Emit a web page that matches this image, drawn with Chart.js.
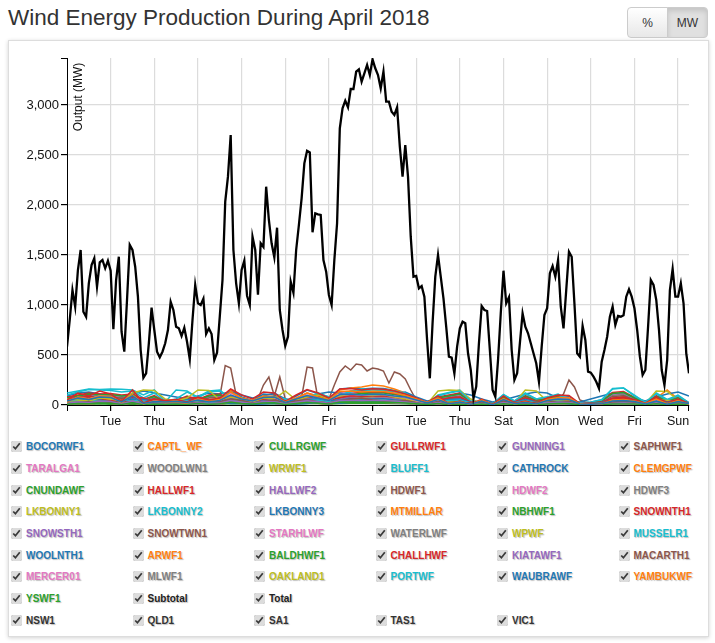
<!DOCTYPE html>
<html>
<head>
<meta charset="utf-8">
<title>Wind Energy Production During April 2018</title>
<script src="https://cdn.jsdelivr.net/npm/chart.js@4.4.0/dist/chart.umd.min.js"></script>
<style>
  body { margin: 0; background: #fff; font-family: "Liberation Sans", Arial, Helvetica, sans-serif; }
  #title { position: absolute; left: 8px; top: 5px; margin: 0; font-size: 22.5px; font-weight: normal; color: #333; white-space: nowrap; }
  .btn-group { position: absolute; left: 627px; top: 7px; display: flex; }
  .btn-group button { height: 31px; width: 41px; padding: 0; font: 12px "Liberation Sans", Arial, sans-serif; color: #333; border: 1px solid #ccc; background: linear-gradient(#fff, #e8e8e8); }
  .btn-group button:first-child { border-radius: 4px 0 0 4px; }
  .btn-group button:last-child { margin-left: -1px; border-radius: 0 4px 4px 0; background: #e0e0e0; box-shadow: inset 0 3px 5px rgba(0,0,0,.125); }
  #panel { position: absolute; left: 8px; top: 40px; width: 701px; height: 597px; box-sizing: border-box; border: 1px solid #ddd; box-shadow: 0 1px 4px rgba(0,0,0,.18); background: #fff; }
  #chart { display: block; }
  .legend { display: grid; grid-template-columns: repeat(6, 121.5px); grid-auto-rows: 21.7px; padding-left: 2px; }
  .legend label { display: flex; align-items: center; font-size: 10px; font-weight: bold; white-space: nowrap; text-shadow: 1px 1px 1px rgba(0,0,0,.25); }
  .legend input { width: 11px; height: 11px; margin: 0 4px 0 0; accent-color: #dcdcdc; }
</style>
</head>
<body>
<h1 id="title">Wind Energy Production During April 2018</h1>
<div class="btn-group"><button>%</button><button>MW</button></div>
<div id="panel">
  <canvas id="chart" width="699" height="395"></canvas>
  <div class="legend" id="farmLegend"></div>
  <div class="legend" id="regionLegend"></div>
</div>
<script>
// hours from 1 April 00:00 to the last reading
const spanHours = 684;
const dayNames = ["Sun", "Mon", "Tue", "Wed", "Thu", "Fri", "Sat"];
const dayTicks = [48, 96, 144, 192, 240, 288, 336, 384, 432, 480, 528, 576, 624, 672];
const yTicks = [0, 500, 1000, 1500, 2000, 2500, 3000];
const yMax = 3470;

// Total output, 3-hourly
const totalMW = [
  583, 850, 1150, 983, 1350, 1550, 933, 883, 1217, 1400,
  1467, 1183, 1427, 1450, 1367, 1443, 1343, 757, 1250, 1483,
  733, 533, 1050, 1600, 1550, 1383, 1083, 550, 272, 317,
  617, 973, 750, 533, 477, 533, 617, 750, 1033, 950,
  783, 767, 690, 773, 633, 457, 850, 1200, 1017, 1000,
  1063, 710, 767, 710, 450, 523, 883, 1250, 2033, 2283,
  2700, 1550, 1217, 1017, 1350, 1443, 1093, 1000, 1683, 1550,
  1103, 1617, 1580, 2183, 1850, 1617, 1477, 1773, 950, 750,
  593, 683, 1233, 1123, 1550, 1800, 2067, 2417, 2543, 2527,
  1727, 1917, 1907, 1900, 1450, 1333, 1100, 1000, 1450, 1817,
  2767, 2967, 3043, 2977, 3160, 3160, 3333, 3357, 3233, 3317,
  3400, 3300, 3457, 3367, 3300, 3167, 3333, 3033, 3033, 2933,
  2900, 2977, 2583, 2283, 2600, 2283, 1683, 1283, 1290, 1167,
  1190, 1083, 650, 267, 817, 1283, 1500, 1283, 1067, 783,
  483, 473, 317, 583, 767, 833, 817, 517, 350, 67,
  183, 617, 990, 950, 940, 550, 150, 83, 450, 917,
  1343, 1017, 1077, 550, 250, 317, 617, 917, 783, 717,
  617, 517, 417, 233, 583, 900, 967, 1317, 1390, 1283,
  1450, 983, 767, 1150, 1533, 1483, 1017, 517, 483, 790,
  650, 333, 323, 283, 233, 167, 433, 550, 683, 883,
  983, 800, 890, 883, 897, 1083, 1157, 1083, 967, 750,
  483, 300, 350, 783, 1250, 1200, 1050, 750, 350, 200,
  450, 1150, 1360, 1083, 1083, 1217, 1017, 517, 317
];

// Individual farms, 12-hourly (MACARTH1 6-hourly)
const BOCORWF1 = [40,70,55,80,75,30,90,15,35,30, 35,25,50,30,45,100,60,40,75,80, 25,60,95,70,45,105,110,100,108,105, 90,80,50,20,55,10,30,8,40,2, 55,12,25,10,45,60,55,10,8,12, 40,45,35,10,40,8,35,12];
const CAPTL_WF = [30,80,60,90,85,25,100,10,40,25, 30,20,60,35,50,130,70,45,90,85, 30,70,120,80,50,135,140,130,138,135, 120,95,60,25,70,8,35,5,50,2, 65,10,30,8,55,75,70,12,6,10, 50,55,40,12,60,10,45,8];
const CULLRGWF = [8,15,12,20,18,6,22,3,10,7, 9,6,14,8,12,27,16,10,20,22, 6,15,25,18,10,28,30,27,29,28, 24,20,12,5,14,2,7,1,10,0, 13,3,6,2,11,15,14,3,2,3, 10,11,9,3,12,2,9,3];
const GULLRWF1 = [50,120,90,140,110,35,150,20,60,45, 55,30,80,50,70,160,100,60,130,120, 35,100,155,120,70,160,165,150,162,158, 140,110,70,25,90,10,40,6,60,3, 90,15,40,10,70,100,95,15,10,15, 60,70,55,15,80,12,60,10];
const GUNNING1 = [15,30,25,38,35,10,40,5,18,12, 14,8,22,12,20,44,28,15,35,32, 10,28,42,32,18,45,46,43,45,44, 38,30,18,6,24,3,10,2,16,1, 25,4,10,3,20,28,26,4,3,4, 16,20,14,4,22,3,15,3];
const SAPHWF1 = [10,20,35,15,25,40,20,10,30,45, 20,15,25,40,30,60,45,20,35,50, 25,40,55,30,20,45,60,70,50,40, 30,45,20,10,35,5,15,25,30,10, 40,20,15,30,45,25,35,10,20,15, 30,40,25,10,35,15,20,10];
const TARALGA1 = [35,75,60,90,80,25,95,12,40,30, 35,20,55,30,45,100,65,40,80,75, 25,65,100,75,45,105,107,100,105,104, 90,75,45,15,55,6,25,4,35,2, 55,8,25,6,45,65,60,8,5,8, 35,45,35,10,50,8,40,6];
const WOODLWN1 = [15,32,26,40,36,12,42,5,18,13, 15,9,24,13,20,46,30,18,36,34, 11,30,44,34,20,47,48,45,47,46, 40,33,20,7,26,3,11,2,17,1, 27,4,11,3,21,29,27,4,3,4, 17,21,15,4,23,3,16,3];
const WRWF1 = [60,50,40,70,60,40,120,150,145,60, 40,70,150,145,50,80,60,30,70,60, 140,50,80,100,60,90,110,100,95,105, 80,60,40,20,50,15,30,10,40,5, 50,20,30,10,40,55,50,15,10,12, 35,40,30,10,45,10,30,8];
const BLUFF1 = [40,45,50,35,20,30,45,40,25,15, 30,45,40,20,25,50,35,20,30,40, 15,35,45,50,30,40,50,45,48,50, 40,35,20,10,30,45,50,20,15,10, 35,20,45,25,30,40,25,10,15,20, 45,50,30,15,40,20,35,15];
const CATHROCK = [45,55,60,50,30,40,60,55,35,20, 40,55,50,25,30,60,45,25,40,50, 20,40,55,60,40,50,62,58,60,62, 50,40,25,12,35,55,60,25,20,10, 45,25,55,30,40,50,30,12,18,25, 55,60,35,20,50,25,45,20];
const CLEMGPWF = [30,40,45,35,25,20,40,35,20,12, 25,40,35,15,20,50,30,18,35,38, 12,30,45,48,25,42,52,50,55,54, 45,38,20,8,25,40,45,18,12,6, 30,15,40,20,28,38,22,8,12,18, 40,45,25,12,38,18,32,12];
const CNUNDAWF = [25,35,40,30,18,22,35,30,18,10, 22,35,30,14,16,42,28,14,30,34, 10,25,38,42,22,36,44,42,45,44, 38,30,16,6,20,32,38,14,10,5, 26,12,34,16,22,30,18,6,10,14, 34,38,20,10,30,14,26,8];
const HALLWF1 = [60,75,85,65,40,50,80,70,40,25, 50,75,70,30,35,90,60,30,60,70, 25,55,80,90,50,75,92,88,90,92, 80,60,35,12,45,70,80,30,25,10, 55,30,75,35,50,65,40,12,20,30, 70,80,45,20,65,30,55,20];
const HALLWF2 = [45,55,65,50,30,38,60,52,30,18, 38,55,52,22,26,68,45,22,45,52, 18,40,60,68,38,56,70,66,68,70, 60,45,26,9,34,52,60,22,18,8, 42,22,56,26,38,48,30,9,15,22, 52,60,34,15,48,22,42,15];
const HDWF1 = [55,70,80,60,35,45,75,65,38,22, 45,70,65,28,32,85,55,28,55,65, 22,50,75,85,45,70,95,90,92,96, 80,58,32,10,42,65,75,28,22,9, 52,28,70,32,48,60,38,10,18,28, 65,75,42,18,60,28,52,18];
const HDWF2 = [60,72,78,55,38,48,72,68,40,20, 48,72,62,30,35,88,52,30,58,62, 25,52,72,88,48,72,92,88,95,94, 78,60,35,12,45,62,78,30,20,10, 50,30,72,30,45,62,35,12,20,25, 68,72,40,20,62,25,55,15];
const HDWF3 = [50,65,75,58,32,42,70,62,35,18, 42,68,60,25,30,82,50,25,52,60, 20,48,70,82,42,68,90,85,88,90, 75,55,30,8,40,60,72,25,18,8, 48,25,68,28,42,58,35,8,15,25, 62,70,38,15,58,25,50,15];
const LKBONNY1 = [50,55,45,40,25,30,55,60,40,20, 35,55,60,30,25,60,40,20,45,50, 30,35,55,65,35,50,60,55,58,60, 55,45,25,10,30,55,60,25,15,10, 40,25,60,20,30,45,30,10,15,20, 55,60,30,15,50,45,40,15];
const LKBONNY2 = [120,140,160,155,160,158,150,100,150,40, 60,130,80,140,150,60,70,30,40,80, 60,50,70,120,80,90,130,150,140,145, 130,110,60,20,90,120,140,40,30,15, 100,40,110,60,80,100,50,20,30,50, 160,170,90,30,110,50,90,25];
const LKBONNY3 = [25,30,35,30,30,28,30,20,28,8, 12,25,18,28,30,14,15,6,10,18, 12,10,15,25,18,20,28,35,32,34, 30,25,14,4,20,28,32,9,6,3, 24,10,25,14,18,24,12,4,7,12, 36,38,20,7,26,12,20,6];
const MTMILLAR = [45,50,60,55,58,50,55,30,48,15, 25,45,30,50,55,25,28,12,18,35, 22,20,30,45,32,40,55,62,60,62, 55,45,25,8,38,50,60,18,12,6, 42,18,48,25,35,45,22,8,12,22, 62,68,38,12,48,22,38,10];
const NBHWF1 = [70,90,110,100,105,90,100,50,85,25, 40,80,50,90,100,45,50,20,30,60, 40,35,50,80,55,70,100,120,115,118, 100,85,45,12,70,90,110,30,20,10, 75,30,85,45,60,80,40,12,22,40, 115,125,70,20,85,40,70,18];
const SNOWNTH1 = [80,100,120,110,115,100,110,55,95,30, 45,90,55,100,110,50,55,22,35,65, 45,40,55,90,60,80,110,130,125,128, 110,95,50,15,80,100,120,35,25,12, 85,35,95,50,65,90,45,15,25,45, 125,135,75,22,95,45,78,20];
const SNOWSTH1 = [70,90,105,95,100,88,95,48,82,25, 40,78,48,88,95,42,48,18,30,58, 38,35,48,78,52,68,95,112,108,110, 95,82,42,12,68,88,105,30,22,10, 72,30,82,42,58,78,38,12,20,38, 110,118,65,18,82,38,68,16];
const SNOWTWN1 = [55,70,82,75,80,68,75,38,65,20, 32,62,38,70,75,34,38,15,24,45, 30,28,38,62,42,55,75,88,85,86, 75,65,34,10,54,70,82,24,18,8, 58,24,65,34,46,62,30,10,16,30, 86,92,52,15,65,30,54,12];
const STARHLWF = [12,22,18,26,24,8,28,3,12,8, 10,6,16,9,13,30,19,11,24,22, 7,19,28,22,12,31,33,30,32,31, 27,21,13,4,16,2,7,1,11,0, 17,3,7,2,13,18,17,3,2,3, 11,13,10,3,14,2,10,2];
const WATERLWF = [60,80,95,85,90,75,85,40,72,20, 35,70,40,78,85,38,42,16,26,50, 32,30,42,70,46,60,85,100,95,98, 85,72,38,10,60,78,92,26,18,8, 64,26,72,38,50,70,34,10,18,34, 98,105,58,16,72,34,60,14];
const WPWF = [50,60,70,65,68,55,60,30,55,15, 25,50,30,55,60,28,30,12,20,38, 25,22,30,50,35,45,62,75,70,72, 60,50,28,10,140,150,145,60,15,8, 50,20,150,140,40,55,28,8,15,28, 75,80,45,12,140,135,50,12];
const MUSSELR1 = [100,130,155,150,145,130,140,70,120,30, 150,140,70,135,140,65,70,28,40,80, 55,50,70,120,80,95,140,160,155,158, 140,120,60,15,100,125,150,40,28,12, 105,40,120,60,80,110,50,15,28,55, 165,170,100,25,120,55,100,22];
const WOOLNTH1 = [90,120,130,110,80,60,110,140,120,100, 80,60,90,120,110,130,100,70,90,120, 60,40,80,110,130,120,100,80,60,90, 110,130,80,40,60,90,120,100,60,30, 50,80,110,130,120,70,40,30,60,90, 120,100,70,40,80,110,130,90];
const ARWF1 = [40,60,50,70,60,20,80,10,30,20, 25,15,40,20,30,150,60,30,80,70, 20,60,120,90,40,150,170,180,200,190, 160,120,50,15,60,10,25,5,40,2, 60,10,30,8,50,80,70,10,6,10, 40,55,40,10,70,150,60,10];
const BALDHWF1 = [20,30,25,35,30,10,40,5,15,10, 12,8,20,12,18,48,28,15,35,32, 10,28,45,35,18,50,52,50,53,52, 45,36,20,6,22,3,10,2,15,1, 25,4,10,3,20,28,26,4,3,4, 16,20,15,4,25,3,16,3];
const CHALLHWF = [22,28,26,32,30,12,38,6,16,12, 14,10,22,14,20,46,30,16,34,30, 12,26,44,34,20,48,50,48,52,50, 44,34,22,7,24,4,12,2,16,1, 26,5,12,4,22,30,28,5,3,5, 18,22,16,5,26,4,18,3];
const KIATAWF1 = [10,16,14,20,18,5,22,3,8,6, 8,5,12,7,10,28,16,8,20,18, 5,16,26,20,10,29,31,29,30,29, 26,20,12,3,14,2,6,1,9,0, 15,2,6,2,12,16,15,2,2,2, 9,12,9,2,14,2,9,2];
const MACARTH1 = [
  30, 25, 40, 35, 20, 15, 30, 45, 50, 40,
  35, 20, 15, 25, 40, 30, 20, 10, 15, 25,
  30, 20, 15, 10, 20, 35, 30, 40, 80, 395,
  370, 100, 40, 30, 40, 60, 200, 280, 90, 280,
  60, 40, 50, 80, 380, 370, 60, 40, 60, 200,
  330, 390, 350, 410, 400, 340, 370, 360, 340, 220,
  330, 310, 260, 150, 50, 30, 20, 15, 25, 10,
  8, 15, 20, 30, 10, 5, 15, 25, 20, 10,
  15, 25, 30, 20, 35, 40, 30, 25, 30, 40,
  60, 110, 250, 180, 50, 30, 20, 15, 25, 20,
  30, 40, 25, 15, 20, 30, 25, 35, 40, 30,
  20, 15, 25, 20, 15
];
const MERCER01 = [40,70,55,85,75,20,95,8,35,25, 30,18,50,28,42,120,65,35,90,80, 22,70,120,90,45,125,131,125,130,128, 115,90,55,15,60,6,25,4,40,2, 65,8,25,6,50,75,70,8,5,8, 40,50,38,8,60,6,42,5];
const MLWF1 = [12,18,15,22,20,6,24,3,10,7, 8,5,13,8,12,27,17,9,20,19, 6,17,26,20,11,28,30,28,29,28, 25,20,12,3,13,2,6,1,9,0, 14,2,6,2,12,16,15,2,2,2, 9,11,9,2,13,2,9,2];
const OAKLAND1 = [25,40,32,48,42,12,52,5,20,14, 18,10,28,16,24,62,36,20,45,42, 12,36,58,45,24,64,67,63,66,65, 58,45,28,8,30,4,14,2,20,1, 32,5,14,4,26,36,34,5,3,5, 20,26,20,5,32,4,22,3];
const PORTWF = [40,60,50,70,65,20,80,8,30,22, 28,15,45,25,38,95,55,30,75,70, 20,60,95,75,38,98,102,98,100,100, 90,75,45,12,50,5,20,3,32,2, 55,6,20,5,42,60,58,6,4,6, 32,42,32,6,50,5,35,4];
const WAUBRAWF = [50,90,70,110,95,25,120,10,40,30, 35,20,65,35,55,150,80,45,110,100, 28,90,150,115,55,160,170,160,168,165, 145,115,70,18,75,8,30,5,50,2, 80,10,30,8,65,95,88,10,6,10, 50,65,48,10,75,8,52,6];
const YAMBUKWF = [10,16,13,20,18,5,22,2,8,6, 7,4,12,7,10,26,15,8,19,17, 5,15,24,18,10,27,29,27,28,28, 24,19,12,3,13,2,6,1,8,0, 13,2,6,2,11,15,14,2,2,2, 8,11,8,2,12,2,8,2];
const YSWF1 = [5,8,10,12,8,4,10,6,8,5, 6,8,10,6,8,15,12,8,14,12, 6,10,15,14,10,16,18,17,18,17, 15,12,8,3,10,6,8,4,7,2, 10,4,8,3,8,10,9,3,3,4, 8,10,8,3,10,4,8,3];

const farmNames = ["BOCORWF1", "CAPTL_WF", "CULLRGWF", "GULLRWF1", "GUNNING1", "SAPHWF1",
  "TARALGA1", "WOODLWN1", "WRWF1", "BLUFF1", "CATHROCK", "CLEMGPWF",
  "CNUNDAWF", "HALLWF1", "HALLWF2", "HDWF1", "HDWF2", "HDWF3",
  "LKBONNY1", "LKBONNY2", "LKBONNY3", "MTMILLAR", "NBHWF1", "SNOWNTH1",
  "SNOWSTH1", "SNOWTWN1", "STARHLWF", "WATERLWF", "WPWF", "MUSSELR1",
  "WOOLNTH1", "ARWF1", "BALDHWF1", "CHALLHWF", "KIATAWF1", "MACARTH1",
  "MERCER01", "MLWF1", "OAKLAND1", "PORTWF", "WAUBRAWF", "YAMBUKWF", "YSWF1"];
const farmSeries = [BOCORWF1, CAPTL_WF, CULLRGWF, GULLRWF1, GUNNING1, SAPHWF1,
  TARALGA1, WOODLWN1, WRWF1, BLUFF1, CATHROCK, CLEMGPWF,
  CNUNDAWF, HALLWF1, HALLWF2, HDWF1, HDWF2, HDWF3,
  LKBONNY1, LKBONNY2, LKBONNY3, MTMILLAR, NBHWF1, SNOWNTH1,
  SNOWSTH1, SNOWTWN1, STARHLWF, WATERLWF, WPWF, MUSSELR1,
  WOOLNTH1, ARWF1, BALDHWF1, CHALLHWF, KIATAWF1, MACARTH1,
  MERCER01, MLWF1, OAKLAND1, PORTWF, WAUBRAWF, YAMBUKWF, YSWF1];
const sumNames = ["Subtotal", "Total"];
const regionNames = ["NSW1", "QLD1", "SA1", "TAS1", "VIC1"];

const palette = ["#1f77b4", "#ff7f0e", "#2ca02c", "#d62728", "#9467bd",
  "#8c564b", "#e377c2", "#7f7f7f", "#bcbd22", "#17becf"];

// spread each series evenly over the month
function toPoints(values) {
  const step = spanHours / (values.length - 1);
  return values.map((v, k) => ({ x: k * step, y: v }));
}

const datasets = farmSeries.map((values, i) => ({
  label: farmNames[i],
  data: toPoints(values),
  borderColor: palette[i % palette.length],
  borderWidth: 1.5,
  order: 1
}));
datasets.push({
  label: "Total",
  data: toPoints(totalMW),
  borderColor: "#000",
  borderWidth: 2.3,
  order: 0
});

// outer axis ticks and the "Output (MW)" label inside the plot
const axisExtras = {
  id: "axisExtras",
  afterDraw(chart) {
    const ctx = chart.ctx;
    const a = chart.chartArea;
    ctx.save();
    ctx.strokeStyle = "#000";
    ctx.lineWidth = 1;
    ctx.beginPath();
    ctx.moveTo(a.left - 6, Math.round(a.top) + 0.5);
    ctx.lineTo(a.left, Math.round(a.top) + 0.5);
    ctx.moveTo(Math.round(a.right) - 0.5, a.bottom);
    ctx.lineTo(Math.round(a.right) - 0.5, a.bottom + 6);
    ctx.moveTo(Math.round(a.left) + 0.5, a.bottom);
    ctx.lineTo(Math.round(a.left) + 0.5, a.bottom + 6);
    ctx.stroke();
    ctx.translate(a.left + 12, a.top + 39);
    ctx.rotate(-Math.PI / 2);
    ctx.font = '12px "Liberation Sans", Arial, sans-serif';
    ctx.fillStyle = "#111";
    ctx.textAlign = "center";
    ctx.textBaseline = "middle";
    ctx.fillText("Output (MW)", 0, 0);
    ctx.restore();
  }
};

Chart.defaults.font.family = '"Liberation Sans", Arial, sans-serif';

new Chart(document.getElementById("chart"), {
  type: "line",
  data: { datasets: datasets },
  plugins: [axisExtras],
  options: {
    responsive: false,
    animation: false,
    layout: { padding: { left: 0, top: 17, right: 19, bottom: 0 } },
    elements: { line: { tension: 0 }, point: { radius: 0 } },
    plugins: { legend: { display: false }, tooltip: { enabled: false } },
    scales: {
      x: {
        type: "linear",
        min: 0,
        max: spanHours,
        afterBuildTicks: s => { s.ticks = dayTicks.map(v => ({ value: v })); },
        afterFit: s => { s.height = 31; s.paddingLeft = 0; s.paddingRight = 0; },
        ticks: {
          autoSkip: false,
          maxRotation: 0,
          padding: 3,
          color: "#111",
          font: { size: 12.5 },
          callback: v => dayNames[(v / 24) % 7]
        },
        grid: { color: "#dcdcdc", lineWidth: 1.2, tickColor: "#000", tickLength: 6 },
        border: { color: "#000", width: 1 }
      },
      y: {
        min: 0,
        max: yMax,
        afterBuildTicks: s => { s.ticks = yTicks.map(v => ({ value: v })); },
        afterFit: s => { s.width = 58; s.paddingTop = 0; s.paddingBottom = 0; },
        ticks: {
          padding: 2,
          color: "#111",
          font: { size: 13 },
          callback: v => v.toLocaleString("en-US")
        },
        grid: { color: "#dcdcdc", lineWidth: 1.2, tickColor: "#000", tickLength: 6 },
        border: { color: "#000", width: 1 }
      }
    }
  }
});

// html legend with checkboxes
function addItem(box, name, color) {
  const label = document.createElement("label");
  const cb = document.createElement("input");
  cb.type = "checkbox";
  cb.checked = true;
  const span = document.createElement("span");
  span.textContent = name;
  span.style.color = color;
  label.append(cb, span);
  box.appendChild(label);
}
const farmBox = document.getElementById("farmLegend");
farmNames.forEach((n, i) => addItem(farmBox, n, palette[i % palette.length]));
sumNames.forEach(n => addItem(farmBox, n, "#222"));
const regionBox = document.getElementById("regionLegend");
regionNames.forEach(n => addItem(regionBox, n, "#333"));
</script>
</body>
</html>
